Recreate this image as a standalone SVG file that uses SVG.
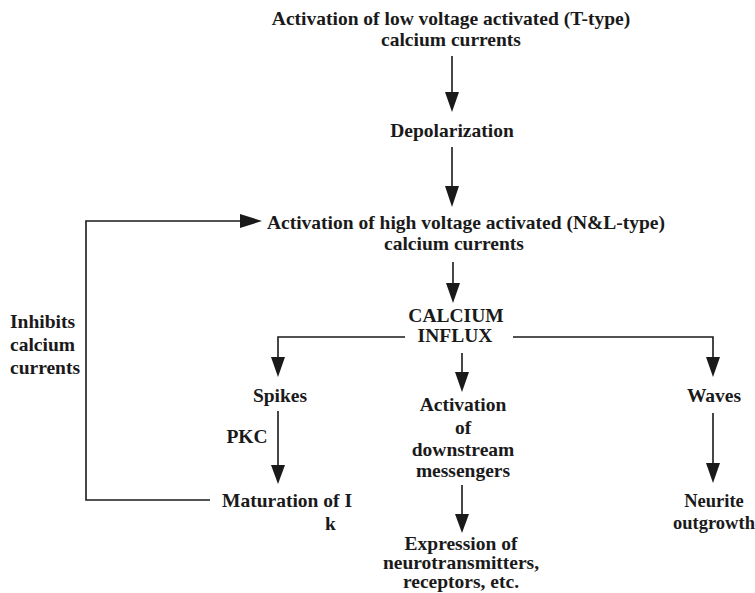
<svg xmlns="http://www.w3.org/2000/svg" width="755" height="593" viewBox="0 0 755 593">
<defs>
<style>
text{font-family:"Liberation Serif","Times New Roman",serif;font-weight:bold;font-size:19.5px;fill:#1a1a1a;text-anchor:middle}
.l{text-anchor:start}
.s{font-size:18.5px}
.c{fill:none;stroke:#1a1a1a;stroke-width:1.6}
.h{fill:#1a1a1a}
</style>
</defs>
<rect width="755" height="593" fill="#fff"/>
<g id="connectors">
<line class="c" x1="452" y1="56" x2="452" y2="93"/>
<path class="h" d="M445,92 L459,92 L452,112 Z"/>
<line class="c" x1="452" y1="147" x2="452" y2="188"/>
<path class="h" d="M445,186 L459,186 L452,207 Z"/>
<line class="c" x1="453" y1="262" x2="453" y2="285"/>
<path class="h" d="M446,283 L460,283 L453,303 Z"/>
<polyline class="c" points="405,337 278,337 278,358"/>
<path class="h" d="M271,357 L285,357 L278,377 Z"/>
<polyline class="c" points="513,337 713,337 713,358"/>
<path class="h" d="M706,357 L720,357 L713,377 Z"/>
<line class="c" x1="462" y1="353" x2="462" y2="374"/>
<path class="h" d="M455,372 L469,372 L462,392 Z"/>
<line class="c" x1="278" y1="411" x2="278" y2="466"/>
<path class="h" d="M271,465 L285,465 L278,484 Z"/>
<line class="c" x1="713" y1="413" x2="713" y2="464"/>
<path class="h" d="M706,463 L720,463 L713,483 Z"/>
<line class="c" x1="462" y1="485" x2="462" y2="516"/>
<path class="h" d="M455,514 L469,514 L462,533 Z"/>
<polyline class="c" points="210,500 86,500 86,221 241,221"/>
<path class="h" d="M240,214 L262,221 L240,228 Z"/>
</g>
<g id="n-ttype"><text x="451" y="25">Activation of low voltage activated (T-type)</text><text x="451" y="46">calcium currents</text></g>
<g id="n-depol"><text x="452" y="137">Depolarization</text></g>
<g id="n-hva"><text x="466" y="229">Activation of high voltage activated (N&amp;L-type)</text><text x="454" y="250">calcium currents</text></g>
<g id="n-influx"><text x="456" y="322">CALCIUM</text><text x="455" y="342">INFLUX</text></g>
<g id="n-spikes"><text x="280" y="402">Spikes</text></g>
<g id="n-pkc"><text x="247" y="443">PKC</text></g>
<g id="n-act"><text x="463" y="411">Activation</text><text x="463" y="434">of</text><text x="463" y="456">downstream</text><text x="463" y="477">messengers</text></g>
<g id="n-waves"><text x="714" y="402">Waves</text></g>
<g id="n-mat"><text class="l" x="222" y="507">Maturation of I</text><text class="l" x="325" y="530">k</text></g>
<g id="n-expr"><text x="461" y="550">Expression of</text><text x="461" y="569">neurotransmitters,</text><text x="461" y="588">receptors, etc.</text></g>
<g id="n-neurite"><text class="s" x="714" y="507">Neurite</text><text class="s" x="714" y="529">outgrowth</text></g>
<g id="n-inhib"><text class="l" x="10" y="328">Inhibits</text><text class="l" x="10" y="351">calcium</text><text class="l" x="10" y="374">currents</text></g>
</svg>
